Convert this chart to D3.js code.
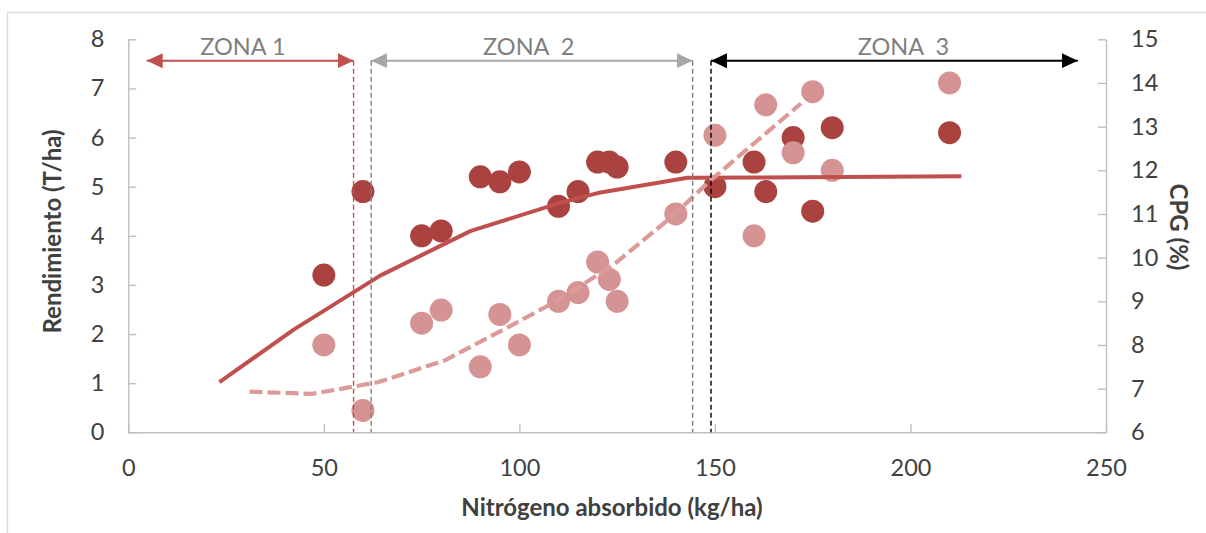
<!DOCTYPE html>
<html>
<head>
<meta charset="utf-8">
<script src="https://cdn.jsdelivr.net/npm/d3@7/dist/d3.min.js"></script>
<style>
  html, body { margin: 0; padding: 0; background: #fff; }
  svg { display: block; font-family: Lato, "Open Sans", sans-serif; }
</style>
</head>
<body>
<svg id="chart" width="1206" height="533"></svg>
<script>
// Nitrogen absorbed (kg/ha) for each plot
const nitrogen = [50, 60, 75, 80, 90, 95, 100, 110, 115, 120, 123, 125, 140, 150, 160, 163, 170, 175, 180, 210];
// Grain yield (T/ha), left axis
const yieldTHa = [3.2, 4.9, 4.0, 4.1, 5.2, 5.1, 5.3, 4.6, 4.9, 5.5, 5.5, 5.4, 5.5, 5.0, 5.5, 4.9, 6.0, 4.5, 6.2, 6.1];
// Grain protein content CPG (%), right axis
const cpgPct = [8.0, 6.5, 8.5, 8.8, 7.5, 8.7, 8.0, 9.0, 9.2, 9.9, 9.5, 9.0, 11.0, 12.8, 10.5, 13.5, 12.4, 13.8, 12.0, 14.0];

// Fitted yield response (N, T/ha)
const yieldFitN = [23.3, 42.3, 64.4, 87.6, 110, 120, 143, 213];
const yieldFitV = [1.02, 2.09, 3.19, 4.10, 4.66, 4.87, 5.18, 5.21];
// Fitted CPG response (N, %)
const cpgFitN = [31, 47, 64, 81, 98, 110, 124, 139, 149, 172];
const cpgFitV = [6.93, 6.88, 7.15, 7.65, 8.45, 9.03, 9.83, 10.94, 11.78, 13.53];

// Zone limits on the N axis and the label of each zone
const zoneNames = ["ZONA 1", "ZONA  2", "ZONA  3"];
const zoneFrom = [4.7, 62.1, 149.0];
const zoneTo = [57.6, 144.3, 242.8];
const zoneArrowYield = 7.565;

// Axis ticks
const xTicks = [0, 50, 100, 150, 200, 250];
const yLeftTicks = [0, 1, 2, 3, 4, 5, 6, 7, 8];
const yRightTicks = [6, 7, 8, 9, 10, 11, 12, 13, 14, 15];

const svg = d3.select("#chart");
const plot = { left: 128.3, right: 1106, top: 39.3, bottom: 432.3 };

const x = d3.scaleLinear().domain([0, 250]).range([plot.left, plot.right]);
const yL = d3.scaleLinear().domain([0, 8]).range([plot.bottom, plot.top]);
const yR = d3.scaleLinear().domain([6, 15]).range([plot.bottom, plot.top]);

const axisColor = "#bfbfbf";
const textColor = "#404040";
const darkRed = "#aa4340";
const pink = "#d59493";
const lineRed = "#c0504d";
const lineDash = "#dc9a98";

// Outer chart frame
svg.append("rect")
  .attr("x", 7.5).attr("y", 12.5)
  .attr("width", 1300).attr("height", 600)
  .attr("fill", "none").attr("stroke", "#d9d9d9").attr("stroke-width", 1.3);

function styleAxis(g) {
  g.select(".domain").attr("stroke", axisColor).attr("stroke-width", 1.4);
  g.selectAll(".tick line").attr("stroke", axisColor).attr("stroke-width", 1.4);
  g.selectAll(".tick text").attr("fill", textColor)
    .style("font-family", "Lato, 'Open Sans', sans-serif").style("font-size", "23.5px");
}

// Bottom axis
svg.append("g")
  .attr("transform", `translate(0,${plot.bottom})`)
  .call(d3.axisBottom(x).tickValues(xTicks).tickSize(-8).tickSizeOuter(0).tickPadding(27).tickFormat(d3.format("d")))
  .call(styleAxis);

// Left axis
svg.append("g")
  .attr("transform", `translate(${plot.left},0)`)
  .call(d3.axisLeft(yL).tickValues(yLeftTicks).tickSize(-8).tickSizeOuter(0).tickPadding(24).tickFormat(d3.format("d")))
  .call(styleAxis);

// Right axis
svg.append("g")
  .attr("transform", `translate(${plot.right},0)`)
  .call(d3.axisRight(yR).tickValues(yRightTicks).tickSize(-8).tickSizeOuter(0).tickPadding(25).tickFormat(d3.format("d")))
  .call(styleAxis);

// Axis titles
svg.append("text")
  .attr("transform", `translate(51,231.5) rotate(-90)`)
  .attr("text-anchor", "middle").attr("dominant-baseline", "central")
  .attr("fill", textColor).style("font-weight", "bold").style("font-size", "24px")
  .text("Rendimiento (T/ha)");

svg.append("text")
  .attr("transform", `translate(1179,227) rotate(90)`)
  .attr("text-anchor", "middle").attr("dominant-baseline", "central")
  .attr("fill", textColor).style("font-weight", "bold").style("font-size", "24px")
  .text("CPG (%)");

svg.append("text")
  .attr("x", 612).attr("y", 516)
  .attr("text-anchor", "middle")
  .attr("fill", textColor).style("font-weight", "bold").style("font-size", "24px")
  .text("Nitrógeno absorbido (kg/ha)");

// Scatter points
const pts = nitrogen.map((n, i) => ({ n, y: yieldTHa[i], c: cpgPct[i] }));

svg.append("g").selectAll("circle").data(pts).join("circle")
  .attr("cx", d => x(d.n)).attr("cy", d => yL(d.y)).attr("r", 11.5)
  .attr("fill", darkRed);

svg.append("g").selectAll("circle").data(pts).join("circle")
  .attr("cx", d => x(d.n)).attr("cy", d => yR(d.c)).attr("r", 11.5)
  .attr("fill", pink);

// Fitted curves
const yieldFit = yieldFitN.map((n, i) => [n, yieldFitV[i]]);
const cpgFit = cpgFitN.map((n, i) => [n, cpgFitV[i]]);

svg.append("path")
  .datum(yieldFit)
  .attr("d", d3.line().x(d => x(d[0])).y(d => yL(d[1])))
  .attr("fill", "none").attr("stroke", lineRed).attr("stroke-width", 4)
  .attr("stroke-linejoin", "round");

svg.append("path")
  .datum(cpgFit)
  .attr("d", d3.line().x(d => x(d[0])).y(d => yR(d[1])))
  .attr("fill", "none").attr("stroke", lineDash).attr("stroke-width", 4.2)
  .attr("stroke-dasharray", "13,5");

// Zone arrows: one colour per zone
const zoneColors = ["#c0504d", "#a6a6a6", "#000000"];

const defs = svg.append("defs");
zoneColors.forEach((col, i) => {
  ["s", "e"].forEach(end => {
    defs.append("marker")
      .attr("id", `arrow-${i}-${end}`)
      .attr("viewBox", "0 0 16 16")
      .attr("refX", end === "e" ? 16 : 0).attr("refY", 8)
      .attr("markerWidth", 16).attr("markerHeight", 16)
      .attr("markerUnits", "userSpaceOnUse")
      .attr("orient", "auto")
      .append("path")
      .attr("d", end === "e" ? "M0,0.5 L16,8 L0,15.5 Z" : "M16,0.5 L0,8 L16,15.5 Z")
      .attr("fill", col);
  });
});

// vertical dashed boundaries: red at end of zone 1, grey at start/end of zone 2, black at start of zone 3
const boundaries = [
  { n: zoneTo[0], color: "#c0504d" },
  { n: zoneFrom[1], color: "#7f7f7f" },
  { n: zoneTo[1], color: "#7f7f7f" },
  { n: zoneFrom[2], color: "#000000" }
];
svg.append("g").selectAll("line").data(boundaries).join("line")
  .attr("x1", d => x(d.n)).attr("x2", d => x(d.n))
  .attr("y1", yL(zoneArrowYield)).attr("y2", plot.bottom)
  .attr("stroke", d => d.color).attr("stroke-width", 1.4)
  .attr("stroke-dasharray", "5,3");

zoneNames.forEach((name, i) => {
  svg.append("line")
    .attr("x1", x(zoneFrom[i])).attr("x2", x(zoneTo[i]))
    .attr("y1", yL(zoneArrowYield)).attr("y2", yL(zoneArrowYield))
    .attr("stroke", zoneColors[i]).attr("stroke-width", 2)
    .attr("marker-start", `url(#arrow-${i}-s)`)
    .attr("marker-end", `url(#arrow-${i}-e)`);
});

const labelN = [29.3, 102.4, 198.2];
svg.append("g").selectAll("text").data(zoneNames).join("text")
  .attr("x", (d, i) => x(labelN[i])).attr("y", 55)
  .attr("text-anchor", "middle")
  .attr("fill", "#7f7f7f").style("font-size", "23.5px")
  .style("white-space", "pre").attr("xml:space", "preserve")
  .text(d => d);
</script>
</body>
</html>
